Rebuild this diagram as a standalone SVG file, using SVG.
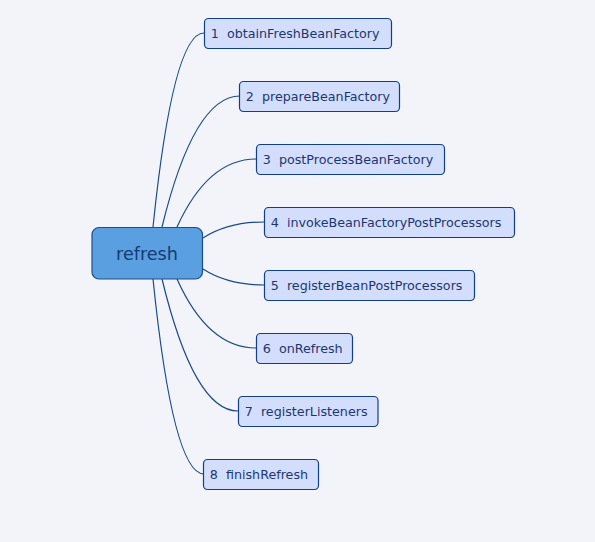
<svg xmlns="http://www.w3.org/2000/svg" width="595" height="542" viewBox="0 0 595 542">
<style>
.bg{fill:#f2f4f9}
.child rect{fill:#d3defc;stroke:#123f87;stroke-width:1.2}
.child text{font-family:"DejaVu Sans","Verdana",sans-serif;font-size:12.7px;fill:#1c3673;white-space:pre}
.root rect{fill:#5a9fe0;stroke:#1d4d8e;stroke-width:1.2}
.root text{font-family:"DejaVu Sans","Verdana",sans-serif;font-size:17.6px;fill:#163a74;text-anchor:middle}
#connectors path{fill:none;stroke:#1a4a8c;stroke-width:1.2}
</style>
<rect class="bg" x="0" y="0" width="595" height="542"/>
<g id="connectors">
<path d="M153,227 Q173,33 204,33"/>
<path d="M162,227 Q194,96 240,96"/>
<path d="M177,227 Q208,159 256,159"/>
<path d="M203,238 Q228,222 264,222"/>
<path d="M203,269 Q228,285 264,285"/>
<path d="M177,279 Q208,348 256,348"/>
<path d="M162,279 Q194,411 238,411"/>
<path d="M153,279 Q173,474 204,474"/>
</g>
<g id="root" class="root">
<rect x="92" y="227.5" width="110.5" height="51.5" rx="7"/>
<text x="147" y="260">refresh</text>
</g>
<g id="n1" class="child"><rect x="204.5" y="18.5" width="187" height="30" rx="4"/><text x="210.8" y="37.8">1  obtainFreshBeanFactory</text></g>
<g id="n2" class="child"><rect x="239.5" y="81.5" width="160" height="30" rx="4"/><text x="245.8" y="100.8">2  prepareBeanFactory</text></g>
<g id="n3" class="child"><rect x="256.5" y="144.5" width="188" height="30" rx="4"/><text x="262.8" y="163.8">3  postProcessBeanFactory</text></g>
<g id="n4" class="child"><rect x="264.5" y="207.5" width="250" height="30" rx="4"/><text x="270.8" y="226.8">4  invokeBeanFactoryPostProcessors</text></g>
<g id="n5" class="child"><rect x="264.5" y="270.5" width="210" height="30" rx="4"/><text x="270.8" y="289.8">5  registerBeanPostProcessors</text></g>
<g id="n6" class="child"><rect x="256.5" y="333.5" width="96" height="30" rx="4"/><text x="262.8" y="352.8">6  onRefresh</text></g>
<g id="n7" class="child"><rect x="238.5" y="396.5" width="139.5" height="30" rx="4"/><text x="244.8" y="415.8">7  registerListeners</text></g>
<g id="n8" class="child"><rect x="203.5" y="459.5" width="115" height="30" rx="4"/><text x="209.8" y="478.8">8  finishRefresh</text></g>
</svg>
